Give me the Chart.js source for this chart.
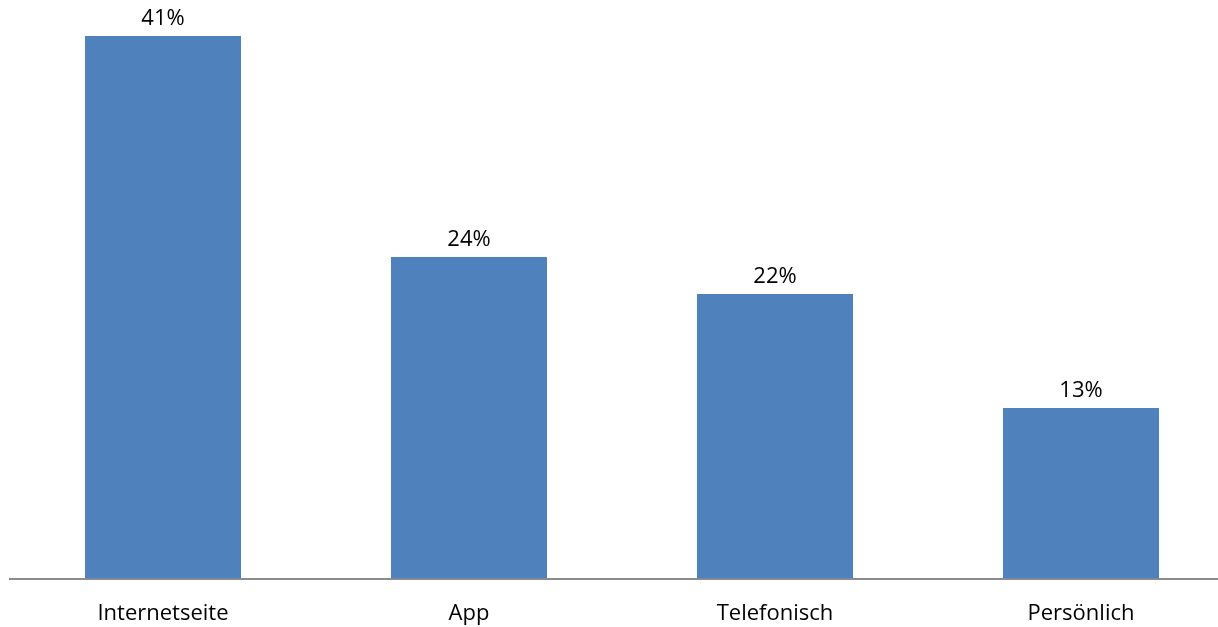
<!DOCTYPE html>
<html>
<head>
<meta charset="utf-8">
<script src="https://cdn.jsdelivr.net/npm/chart.js@4/dist/chart.umd.min.js"></script>
<style>
    html, body { margin: 0; padding: 0; background: #fff; overflow: hidden; }
    #wrap { width: 1240px; height: 649px; }
</style>
</head>
<body>
<div id="wrap"><canvas id="chart" width="1240" height="649"></canvas></div>
<script>
const categories = ['Internetseite', 'App', 'Telefonisch', 'Persönlich'];
const values = [41, 24.3, 21.5, 12.9];
const valueLabels = ['41%', '24%', '22%', '13%'];

const FONT = "'Open Sans', 'Liberation Sans', sans-serif";

// Beschriftung über den Balken
const barLabels = {
    id: 'barLabels',
    afterDatasetsDraw(chart) {
        const ctx = chart.ctx;
        const meta = chart.getDatasetMeta(0);
        ctx.save();
        ctx.font = '22px ' + FONT;
        ctx.fillStyle = '#000';
        ctx.textAlign = 'center';
        ctx.textBaseline = 'middle';
        meta.data.forEach((bar, i) => {
            ctx.fillText(valueLabels[i], bar.x, bar.y - 17);
        });
        ctx.restore();
    }
};

new Chart(document.getElementById('chart').getContext('2d'), {
    type: 'bar',
    data: {
        labels: categories,
        datasets: [{
            data: values,
            backgroundColor: '#4F81BD',
            borderWidth: 0,
            barPercentage: 1,
            categoryPercentage: 0.51
        }]
    },
    options: {
        responsive: false,
        animation: false,
        layout: { padding: { top: 36, left: 10, right: 6, bottom: 0 } },
        plugins: { legend: { display: false }, tooltip: { enabled: false } },
        scales: {
            x: {
                grid: { display: false, drawTicks: false },
                border: { color: '#8C8C8C', width: 2 },
                ticks: { color: '#000', font: { family: FONT, size: 22 }, padding: 22 }
            },
            y: {
                display: false,
                min: 0,
                max: 41
            }
        }
    },
    plugins: [barLabels]
});
</script>
</body>
</html>
